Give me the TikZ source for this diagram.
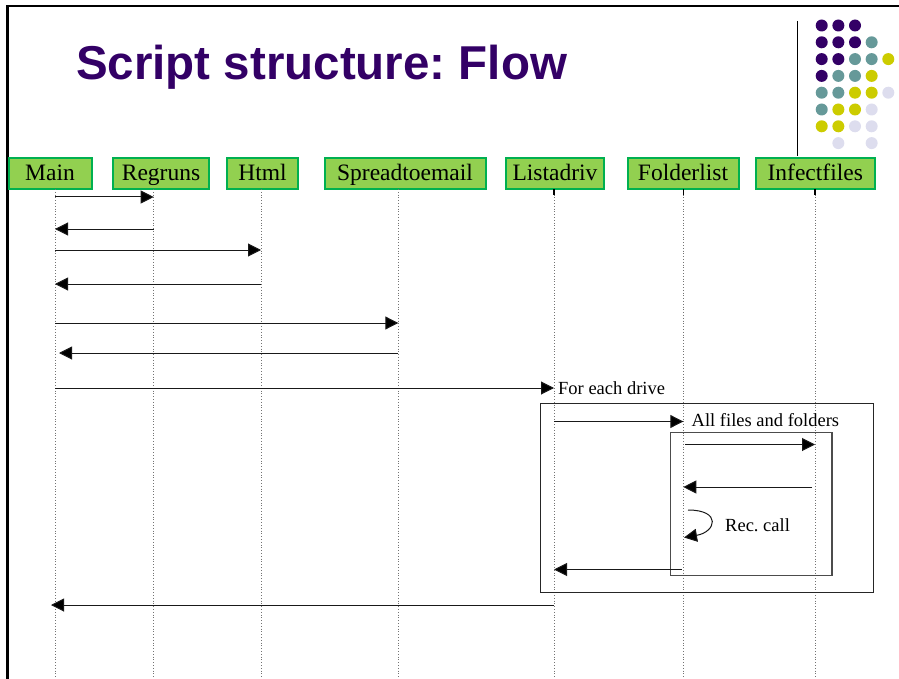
\documentclass[tikz,border=0pt]{standalone}
\usepackage{fontspec}
\setmainfont{Liberation Serif}
\newfontfamily\titlefont{Liberation Sans}
\usetikzlibrary{arrows.meta}
\frenchspacing
\definecolor{titlepurple}{HTML}{330066}
\definecolor{dotpurple}{HTML}{330066}
\definecolor{dotteal}{HTML}{669999}
\definecolor{dotyellow}{HTML}{CCCC00}
\definecolor{dotlav}{HTML}{DDDDEE}
\definecolor{boxfill}{HTML}{92D050}
\definecolor{boxedge}{HTML}{00B050}
\tikzset{
  lifebox/.style={draw=boxedge, fill=boxfill, line width=2pt, inner sep=0pt,
    minimum height=31pt, text height=18pt, text depth=4pt,
    font=\fontsize{23.5}{26}\selectfont, anchor=north west},
  lifeline/.style={draw=black!55, line width=0.8pt, dotted},
  msg/.style={draw=black!90, line width=1pt, -{Triangle[length=13pt,width=13pt,fill=black]}},
  lbl/.style={font=\fontsize{18.5}{20}\selectfont, anchor=west, inner sep=0pt},
  dot/.style={circle, inner sep=0pt, minimum size=12pt},
}
\begin{document}
\begin{tikzpicture}[x=1pt,y=-1pt]
\useasboundingbox (0,0) rectangle (899,679);
% slide frame
\draw[line width=2.2pt] (7.5,679) -- (7.5,6) -- (899,6);
% title
\node[anchor=base west, inner sep=0pt, text=titlepurple,
  font=\titlefont\bfseries\fontsize{47.5}{50}\selectfont] (title) at (76,80) {Script structure: Flow};
% decorative dots
\foreach \r/\c/\col in {1/1/dotpurple,1/2/dotpurple,1/3/dotpurple,
  2/1/dotpurple,2/2/dotpurple,2/3/dotpurple,2/4/dotteal,
  3/1/dotpurple,3/2/dotpurple,3/3/dotteal,3/4/dotteal,3/5/dotyellow,
  4/1/dotpurple,4/2/dotteal,4/3/dotteal,4/4/dotyellow,
  5/1/dotteal,5/2/dotteal,5/3/dotyellow,5/4/dotyellow,5/5/dotlav,
  6/1/dotteal,6/2/dotyellow,6/3/dotyellow,6/4/dotlav,
  7/1/dotyellow,7/2/dotyellow,7/3/dotlav,7/4/dotlav,
  8/2/dotlav,8/4/dotlav}
  \node[dot, fill=\col] (d\r\c) at ({821.7+16.65*(\c-1)},{25.5+16.8*(\r-1)}) {};
\draw[line width=1pt] (797,21) -- (797,156);
% lifeline boxes
\node[lifebox, minimum width=83pt] (main) at (7.5,157) {Main};
\node[lifebox, minimum width=96pt] (regruns) at (112,157) {Regruns};
\node[lifebox, minimum width=71pt] (html) at (226,157) {Html};
\node[lifebox, minimum width=161pt] (spread) at (323.5,157) {Spreadtoemail};
\node[lifebox, minimum width=98pt] (lista) at (505,157) {Listadriv};
\node[lifebox, minimum width=111pt] (folder) at (626.5,157) {Folderlist};
\node[lifebox, minimum width=119.5pt] (infect) at (754.5,157) {Infectfiles};
% lifelines
\foreach \n/\x in {Lmain/55,Lreg/153.7,Lhtml/261,Lspread/398.3,Llista/554,Lfolder/683.3,Linfect/815}{
  \coordinate (\n) at (\x,189);
  \coordinate (\n b) at (\x,679);
  \draw[lifeline] (\n) -- (\n b);
}
\foreach \n in {Llista,Lfolder,Linfect}
  \draw[line width=1.5pt] (\n) -- ++(0,6);
% loop frames
\draw[line width=1pt, black!85] (540.7,403.5) rectangle (873.3,592.3);
\draw[line width=1.2pt, black!70] (670.7,432.7) rectangle (832,575.7);
% messages
\draw[msg] (Lmain |- 0,197) -- (Lreg |- 0,197);
\draw[msg] (Lreg |- 0,229) -- (Lmain |- 0,229);
\draw[msg] (Lmain |- 0,250) -- (Lhtml |- 0,250);
\draw[msg] (Lhtml |- 0,284) -- (Lmain |- 0,284);
\draw[msg] (Lmain |- 0,323) -- (Lspread |- 0,323);
\draw[msg] (Lspread |- 0,353) -- ([xshift=4pt]Lmain |- 0,353);
\draw[msg] (Lmain |- 0,388) -- (Llista |- 0,388);
\node[lbl] (feach) at (558,388.5) {For each drive};
\draw[msg] (Llista |- 0,421.5) -- (Lfolder |- 0,421.5);
\node[lbl] (allf) at (691.5,420) {All files and folders};
\draw[msg] ([xshift=2pt]Lfolder |- 0,444.5) -- (Linfect |- 0,444.5);
\draw[msg] ([xshift=-3pt]Linfect |- 0,487) -- (Lfolder |- 0,487);
\coordinate (recA) at (688,510);
\coordinate (recB) at (684,537.5);
\draw[msg] (recA) .. controls (722,510) and (716,532) .. (recB);
\node[lbl] (rec) at (725,525.5) {Rec. call};
\draw[msg] ([xshift=-1.5pt]Lfolder |- 0,569.5) -- (Llista |- 0,569.5);
\draw[msg] (Llista |- 0,605) -- ([xshift=-4pt]Lmain |- 0,605);
\end{tikzpicture}
\end{document}
